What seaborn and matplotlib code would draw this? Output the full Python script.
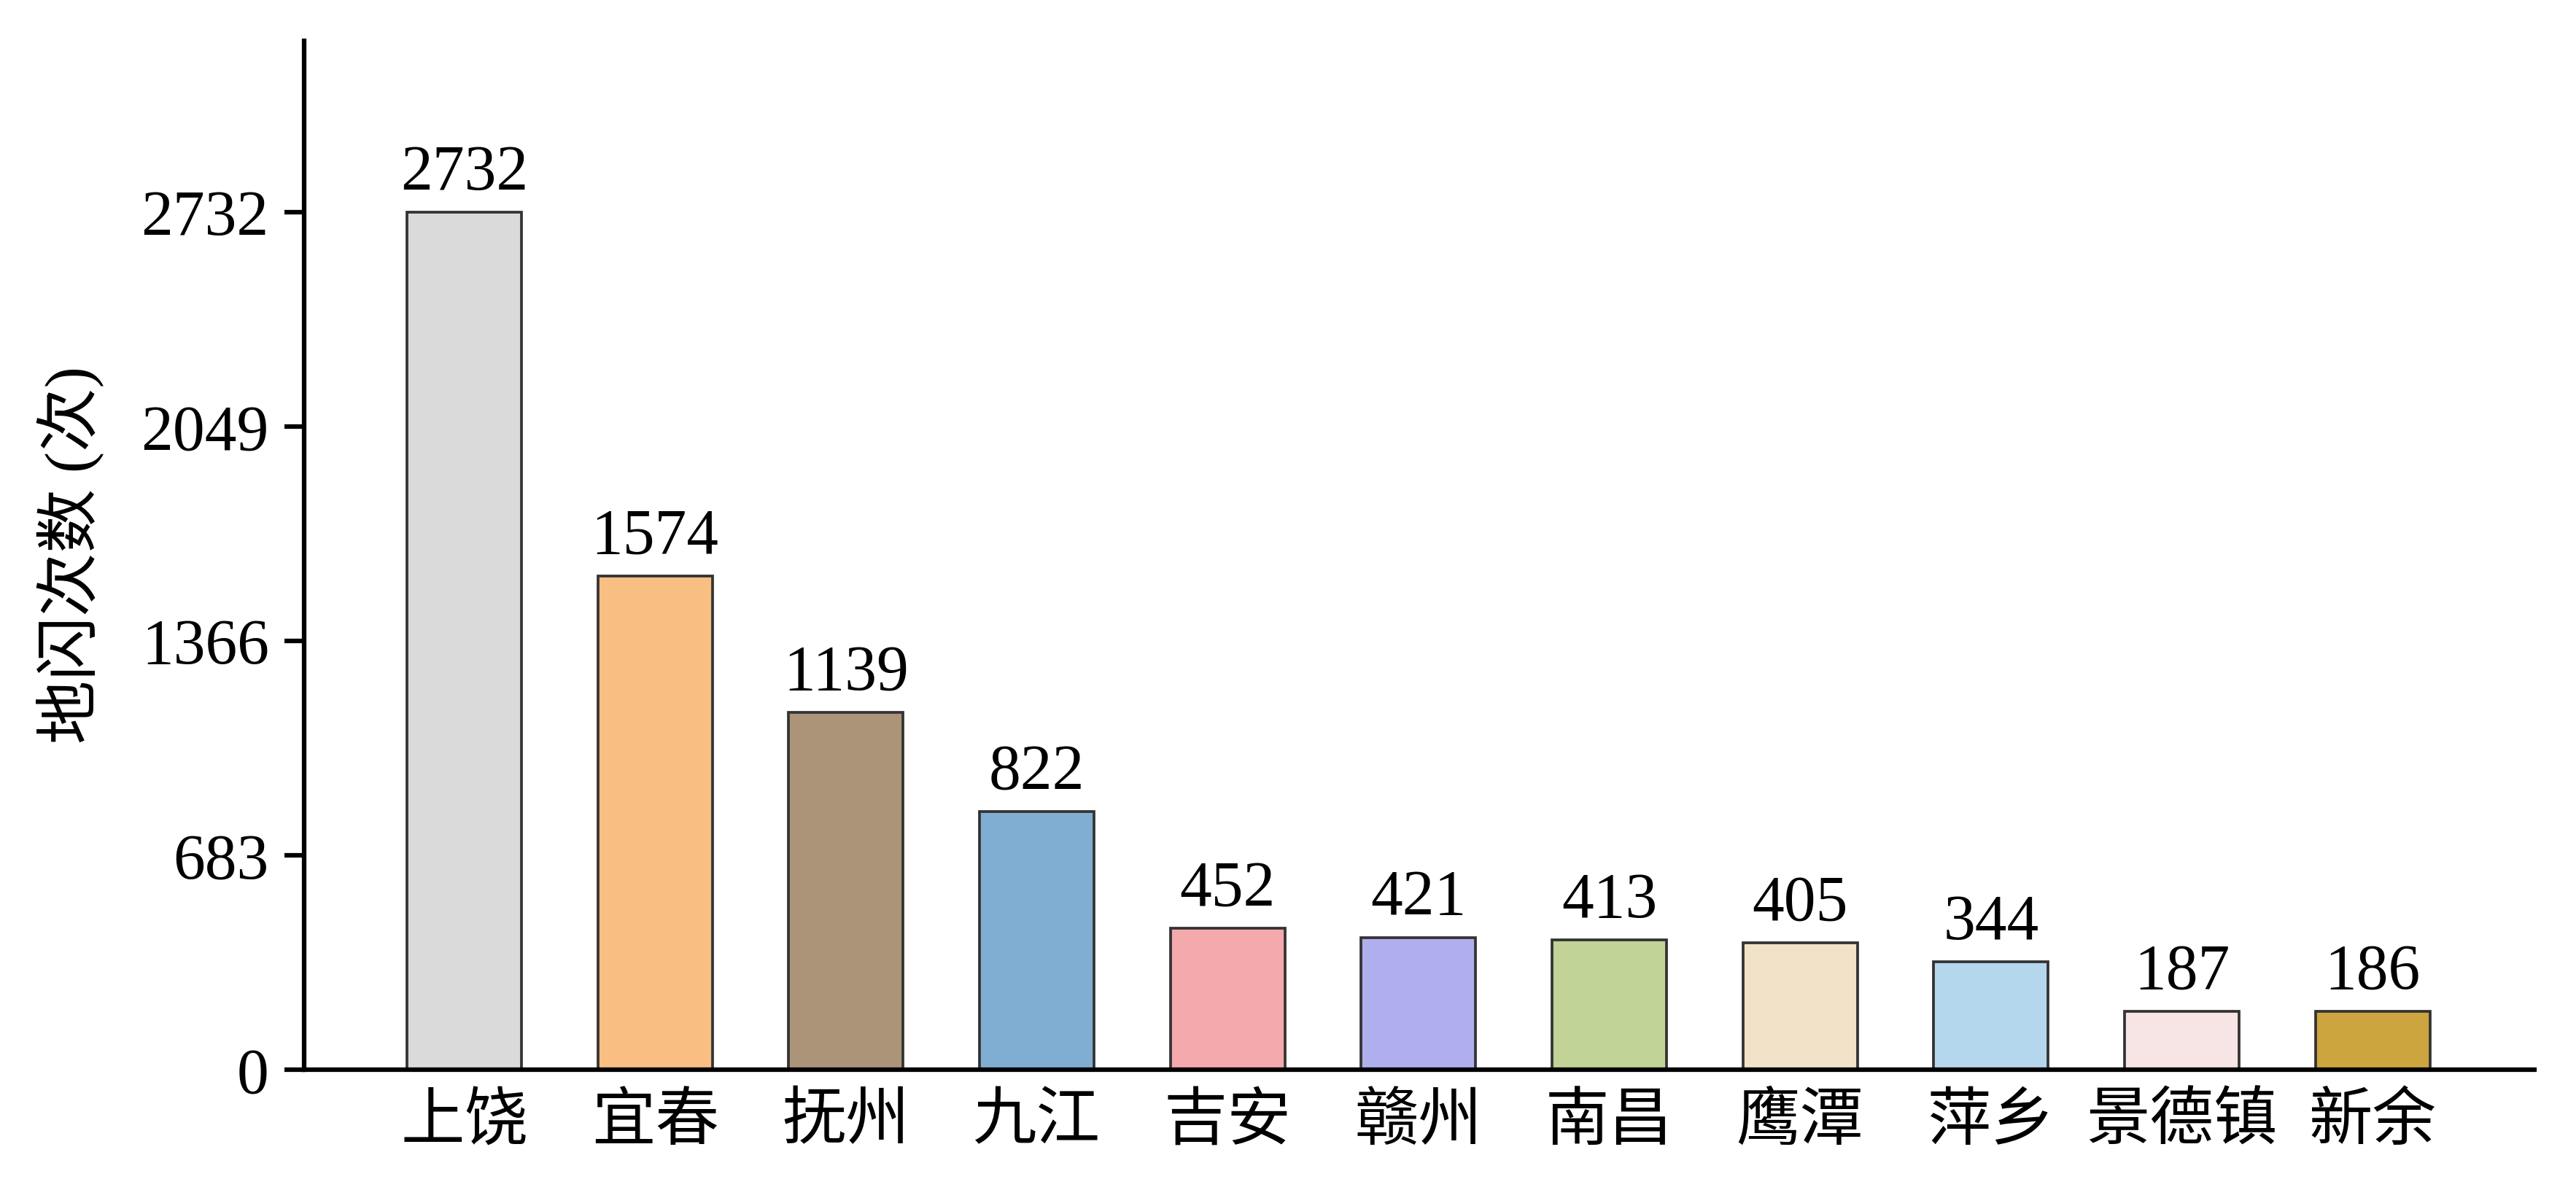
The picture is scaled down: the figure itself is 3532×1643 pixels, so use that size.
import pandas as pd
import seaborn as sns
import matplotlib.pyplot as plt

cities = ["上饶", "宜春", "抚州", "九江", "吉安", "赣州", "南昌", "鹰潭", "萍乡", "景德镇", "新余"]
counts = [2732, 1574, 1139, 822, 452, 421, 413, 405, 344, 187, 186]
colors = ["#dadada", "#f8be82", "#ab9478", "#80aed2", "#f4a9ad", "#b0afee",
          "#c1d396", "#f2e3c8", "#b4d7ed", "#f6e5e4", "#cca53f"]

sns.set_style("white")
plt.rcParams['font.family'] = ['Liberation Serif', 'Noto Sans CJK SC']
plt.rcParams['font.size'] = 21
for k in ["text.color", "axes.labelcolor", "xtick.color", "ytick.color"]:
    plt.rcParams[k] = "black"

df = pd.DataFrame({"city": cities, "count": counts})

fig, ax = plt.subplots(figsize=(3532 / 300, 1643 / 300), dpi=300)
fig.subplots_adjust(left=0.118, right=0.984, bottom=0.107, top=0.966)

sns.barplot(data=df, x="city", y="count", hue="city", palette=colors, legend=False,
            width=0.6, edgecolor="#333333", linewidth=0.9, saturation=1, ax=ax)

for c in ax.containers:
    ax.bar_label(c, fmt="%d", padding=3, fontsize=21, color="black")

top = max(counts)
ax.set_ylim(0, top * 1.2)
ax.set_xlim(-0.84, len(cities) - 0.15)
ax.set_yticks([0, top / 4, top / 2, top * 3 / 4, top])
ax.set_yticklabels(["0", "683", "1366", "2049", "2732"])

ax.set_xlabel("")
ax.set_ylabel("地闪次数 (次)", fontsize=21, labelpad=12)

sns.despine(ax=ax)
for s in ["left", "bottom"]:
    ax.spines[s].set_linewidth(1.5)
    ax.spines[s].set_color("black")
ax.tick_params(axis="x", direction="in", length=6.5, width=1.5, labelsize=21, pad=8)
ax.tick_params(axis="y", direction="out", length=6.5, width=1.5, labelsize=21, left=True, pad=5)

plt.savefig("out.png", dpi=300)
plt.close()
